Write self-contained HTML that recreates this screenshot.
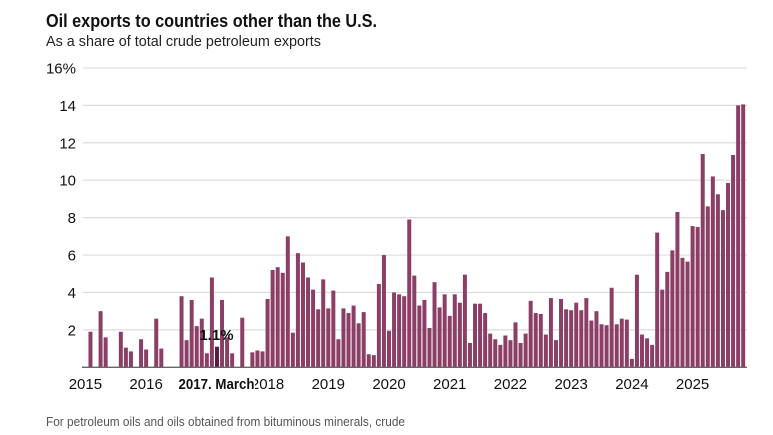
<!DOCTYPE html>
<html lang="en">
<head>
<meta charset="utf-8">
<title>Oil exports to countries other than the U.S.</title>
<style>
html,body{margin:0;padding:0;background:#fff;width:773px;height:435px;overflow:hidden}
svg{display:block;font-family:"Liberation Sans",sans-serif}
</style>
</head>
<body>
<svg id="chart" xmlns="http://www.w3.org/2000/svg" width="773" height="435" viewBox="0 0 773 435">
  <text x="46" y="27" font-size="18" font-weight="700" fill="#111" textLength="331" lengthAdjust="spacingAndGlyphs">Oil exports to countries other than the U.S.</text>
  <text x="46" y="46" font-size="14.5" fill="#222" textLength="275" lengthAdjust="spacingAndGlyphs">As a share of total crude petroleum exports</text>
  <g id="grid"></g>
  <g id="ylabels"></g>
  <g id="bars"></g>
  <line id="baseline" stroke="#666" stroke-width="1.3"></line>
  <g id="xlabels"></g>
  <g id="tip"></g>
  <text x="46" y="426" font-size="12.5" fill="#555" textLength="359" lengthAdjust="spacingAndGlyphs">For petroleum oils and oils obtained from bituminous minerals, crude</text>
</svg>
<script>
// Monthly values starting January 2015; null = no reported value
var startYear = 2015;
var values = [
  null,1.9,null,3.0,1.6,null,null,1.9,1.05,0.85,null,1.5,
  0.95,null,2.6,1.0,null,null,null,3.8,1.45,3.6,2.2,2.6,
  0.75,4.8,1.1,3.6,1.6,0.75,null,2.65,null,0.8,0.9,0.85,
  3.65,5.2,5.35,5.05,7.0,1.85,6.1,5.6,4.8,4.15,3.1,4.7,
  3.15,4.1,1.5,3.15,2.9,3.3,2.35,2.95,0.7,0.65,4.45,6.0,
  1.95,4.0,3.9,3.8,7.9,4.9,3.3,3.6,2.1,4.55,3.2,3.9,
  2.75,3.9,3.45,4.95,1.3,3.4,3.4,2.9,1.8,1.5,1.2,1.7,
  1.45,2.4,1.3,1.8,3.55,2.9,2.85,1.75,3.7,1.45,3.65,3.1,
  3.05,3.45,3.05,3.7,2.5,3.0,2.3,2.25,4.25,2.3,2.6,2.55,
  0.45,4.95,1.75,1.55,1.2,7.2,4.15,5.1,6.25,8.3,5.85,5.65,
  7.55,7.5,11.4,8.6,10.2,9.25,8.4,9.85,11.35,14.0,14.05
];
var yTicks = [0,2,4,6,8,10,12,14,16];
var xTickYears = [2015,2016,2017,2018,2019,2020,2021,2022,2023,2024,2025];
var highlightIndex = 26;
var highlightLabel = "2017. March";

var NS = "http://www.w3.org/2000/svg";
function yScale(v){ return 367.3 - v * 18.71; }
function xScale(i){ return 85.4 + i * 5.06; }
function make(tag, attrs, parent, text){
  var el = document.createElementNS(NS, tag);
  for (var k in attrs) el.setAttribute(k, attrs[k]);
  if (text !== undefined) el.textContent = text;
  parent.appendChild(el);
  return el;
}
var gridG = document.getElementById("grid");
var yG = document.getElementById("ylabels");
var barsG = document.getElementById("bars");
var xG = document.getElementById("xlabels");
var tipG = document.getElementById("tip");

yTicks.forEach(function(t){
  if (t > 0) {
    var gl = make("line", {x1:83, x2:747, y1:yScale(t), y2:yScale(t), stroke:"#dcdcdc", "stroke-width":1.2}, gridG);
    
    
    var lab = make("text", {x:76, y:yScale(t)+5.5, "text-anchor":"end", "font-size":15, fill:"#111"}, yG, t === 16 ? "16%" : String(t));
    
    
  }
});

values.forEach(function(v, i){
  if (v === null) return;
  var top = yScale(v);
  var r = make("rect", {x:xScale(i)-2, y:top, width:4, height:yScale(0)-top,
    fill: i === highlightIndex ? "#5c1a40" : "#8c3f66"}, barsG);
  
  
});

var base = document.getElementById("baseline");
base.setAttribute("x1", 82);
base.setAttribute("x2", 747);
base.setAttribute("y1", yScale(0));
base.setAttribute("y2", yScale(0));

xTickYears.forEach(function(y){
  var i = (y - startYear) * 12;
  var lab = make("text", {x:xScale(i), y:389, "text-anchor":"middle", "font-size":15, fill:"#111"}, xG, String(y));
  
  
});

var hx = xScale(highlightIndex);
var hv = values[highlightIndex];
var pct = make("text", {x:hx-0.5, y:yScale(hv)-6.5, "text-anchor":"middle", "font-size":15, "font-weight":700, fill:"#111"}, tipG, hv.toFixed(1) + "%");


var cover = make("rect", {x:177, y:375, width:78, height:18, fill:"#fff"}, tipG);


var hl = make("text", {x:178.5, y:389, "font-size":15, "font-weight":700, fill:"#111", textLength:76, lengthAdjust:"spacingAndGlyphs"}, tipG, highlightLabel);


</script>
</body>
</html>
